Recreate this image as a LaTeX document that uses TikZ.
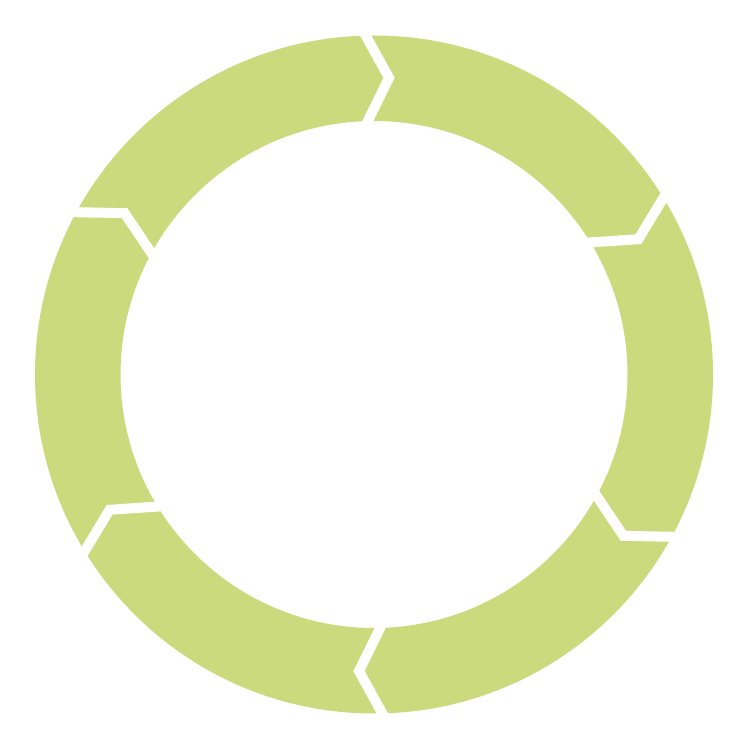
\documentclass[tikz,border=0pt]{standalone}
\usepackage{tikz}
\usetikzlibrary{calc}

\definecolor{ringgreen}{RGB}{203,218,124}
\tikzset{gapline/.style={white, line width=10pt, line join=miter}}

\begin{document}
\begin{tikzpicture}[x=1pt,y=1pt]
        \useasboundingbox (0,0) rectangle (747,748);
        \coordinate (c) at (374,373.5);
        % ring
        \fill[ringgreen, even odd rule] (c) circle (339pt) (c) circle (253.5pt);
        % chevron gaps between the six segments
        \foreach \g in {91.4,31.4,-28.6,-88.6,-148.6,151.4} {
            \coordinate (out) at ($(c)+(\g:339pt)$);
            \coordinate (tip) at ($(c)+({\g-4.3}:297pt)$);
            \coordinate (in) at ($(c)+(\g:253.5pt)$);
            \draw[gapline] ($(tip)!1.3!(out)$) -- (tip) -- ($(tip)!1.3!(in)$);
        }
    \end{tikzpicture}
\end{document}
